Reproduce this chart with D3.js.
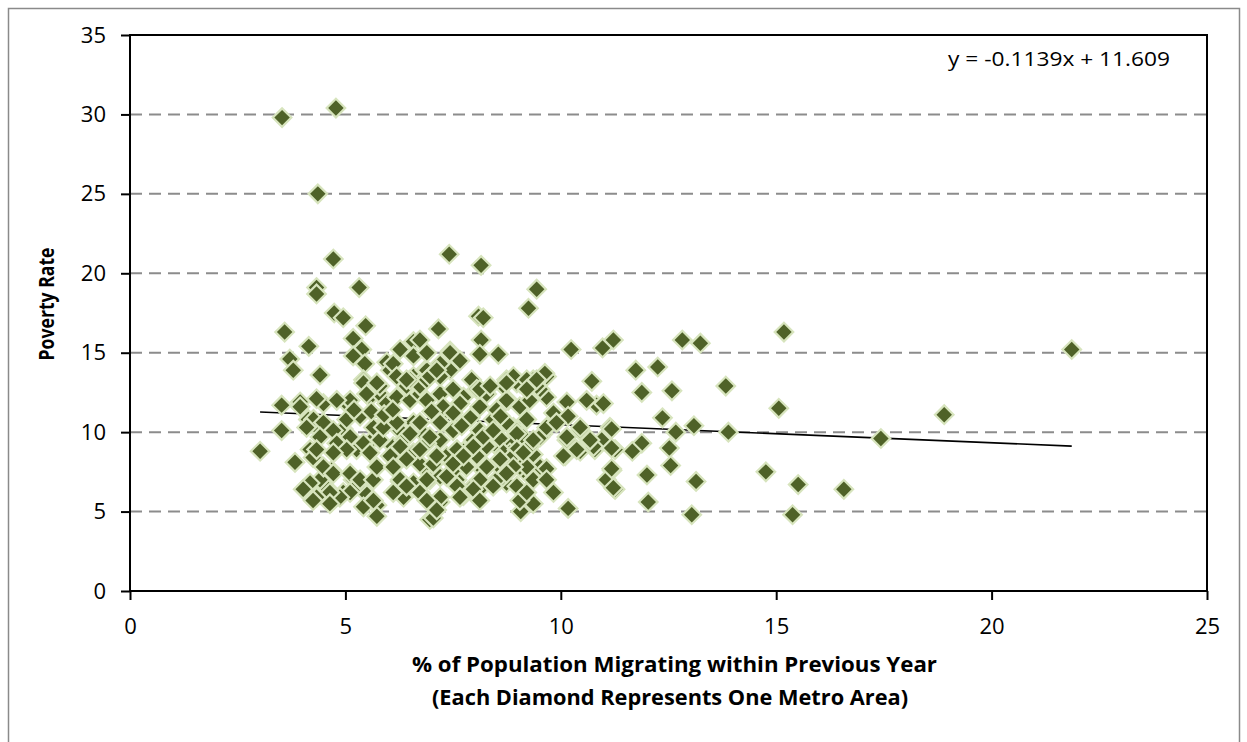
<!DOCTYPE html>
<html>
<head>
<meta charset="utf-8">
<script src="https://cdn.jsdelivr.net/npm/d3@7"></script>
<style>
  body { margin: 0; background: #fff; }
  text { font-family: "Open Sans", "Liberation Sans", sans-serif; fill: #000; }
</style>
</head>
<body>
<div id="chart"></div>
<script>
// % of population migrating within previous year (x) and poverty rate (y), one entry per metro area
var migrationPct = [
  3.53, 4.78, 4.36, 4.72, 7.41, 8.15, 4.33, 4.33, 5.32, 9.44, 9.25, 4.74, 4.95, 8.09, 8.2, 5.47, 7.16, 3.59, 15.18, 21.86,
  18.9, 17.43, 5.18, 4.15, 5.38, 3.71, 3.79, 4.41, 5.18, 5.45, 5.42, 6.27, 6.58, 5.96, 6.04, 6.58, 6.58, 6.85, 8.15, 7.43,
  8.12, 8.55, 10.24, 10.97, 11.22, 12.82, 13.24, 11.74, 12.25, 10.72, 11.88, 12.58, 13.83, 15.06, 12.36, 13.09, 12.67, 13.89, 11.88, 11.66,
  12.52, 12.55, 12.0, 14.76, 15.51, 16.57, 13.14, 12.03, 13.04, 15.38, 11.19, 11.26, 11.06, 10.17, 9.83, 9.36, 9.07, 10.1, 10.45, 10.79,
  11.26, 10.95, 11.14, 10.45, 10.14, 9.59, 9.83, 10.14, 10.17, 10.83, 10.99, 10.6, 9.67, 9.67, 9.52, 9.05, 8.74, 9.36, 8.78, 9.05,
  8.9, 8.67, 9.13, 8.82, 8.59, 9.28, 8.82, 9.13, 9.52, 8.74, 8.98, 8.59, 9.63, 7.93, 7.43, 6.89, 6.73, 3.52, 3.95, 4.49,
  5.03, 3.52, 3.02, 3.83, 4.18, 4.25, 4.41, 4.14, 4.76, 4.68, 4.14, 4.29, 4.57, 4.68, 4.95, 5.18, 5.42, 5.73, 5.73, 5.03,
  4.95, 5.26, 5.65, 5.42, 5.65, 5.57, 5.8, 5.96, 6.19, 6.5, 6.73, 5.42, 5.8, 6.42, 6.73, 5.96, 6.27, 6.58, 6.81, 6.11,
  6.35, 6.11, 6.58, 6.81, 6.81, 6.27, 6.19, 6.58, 6.35, 6.73, 6.96, 4.41, 11.18, 11.18, 11.18, 11.22, 9.05, 9.67, 9.36, 9.05,
  8.51, 8.12, 7.74, 7.2, 7.04, 6.73, 7.2, 7.5, 7.2, 6.89, 6.73, 7.04, 7.35, 7.74, 7.97, 8.12, 8.43, 8.74, 8.98, 8.59,
  8.28, 8.67, 8.98, 9.28, 9.52, 9.67, 10.14, 10.37, 10.06, 10.76, 10.68, 10.45, 6.73, 7.2, 7.74, 8.05, 8.28, 8.67, 8.98, 9.44,
  9.28, 8.74, 8.51, 8.12, 7.66, 7.27, 6.89, 6.96, 7.2, 7.59, 7.89, 7.5, 7.81, 7.12, 7.59, 8.05, 8.2, 8.51, 8.82, 9.21,
  9.36, 9.67, 6.89, 6.11, 6.19, 6.5, 6.89, 7.2, 7.43, 7.66, 7.2, 8.9, 9.21, 5.49, 5.73, 6.42, 6.96, 7.12, 7.5, 8.12,
  8.36, 8.74, 9.21, 9.44, 5.11, 4.8, 4.33, 3.95, 4.26, 4.49, 4.1, 4.41, 4.72, 5.03, 5.34, 5.11, 4.8, 5.03, 4.72, 4.33,
  4.49, 4.72, 5.11, 5.26, 5.11, 4.87, 4.64, 4.18, 4.02, 4.33, 4.64, 5.42, 5.65, 5.34, 5.65, 5.73, 5.57, 5.8, 5.88, 6.19,
  6.5, 6.27, 6.04, 6.42, 6.73, 6.96, 7.2, 6.11, 6.27, 6.42, 6.11, 6.89, 7.35, 7.5, 7.74, 7.97, 8.2, 8.43, 9.21, 9.36,
  9.13, 8.9, 8.59, 8.28, 8.12, 8.43, 7.97, 7.59, 7.2, 6.89, 7.12, 7.66, 8.12, 8.74, 9.21, 4.25,
  5.6, 5.9, 7.5, 7.9, 6.1, 7.0, 8.6, 5.2, 9.9, 7.7
];
var povertyRate = [
  29.8, 30.4, 25.0, 20.9, 21.2, 20.5, 19.1, 18.7, 19.1, 19.0, 17.8, 17.5, 17.2, 17.3, 17.2, 16.7, 16.5, 16.3, 16.3, 15.2,
  11.1, 9.6, 15.9, 15.4, 15.2, 14.6, 13.9, 13.6, 14.8, 14.3, 13.3, 15.2, 15.7, 14.4, 13.9, 14.8, 13.5, 13.9, 15.8, 15.1,
  14.9, 14.9, 15.2, 15.3, 15.8, 15.8, 15.6, 13.9, 14.1, 13.2, 12.5, 12.6, 12.9, 11.5, 10.9, 10.4, 10.0, 10.0, 9.3, 8.8,
  9.0, 7.9, 7.3, 7.5, 6.7, 6.4, 6.9, 5.6, 4.8, 4.8, 7.6, 6.4, 7.0, 5.2, 6.2, 5.5, 5.0, 8.5, 8.8, 8.9,
  8.9, 9.5, 10.3, 10.1, 9.5, 9.9, 11.2, 11.9, 11.0, 11.7, 11.8, 12.0, 12.2, 13.5, 12.7, 13.1, 13.3, 13.3, 12.0, 11.6,
  10.3, 10.6, 9.7, 9.3, 8.9, 8.7, 8.7, 7.6, 7.8, 6.8, 6.6, 7.0, 13.7, 13.3, 13.9, 13.9, 15.8, 11.7, 11.9, 11.8,
  11.8, 10.1, 8.8, 8.1, 8.9, 8.4, 10.1, 10.8, 8.8, 7.6, 6.7, 6.0, 6.5, 5.6, 6.2, 7.0, 6.3, 5.4, 4.7, 9.4,
  10.2, 8.9, 9.6, 9.3, 10.3, 12.2, 12.4, 11.8, 12.2, 12.0, 12.4, 13.1, 12.9, 12.9, 13.1, 10.8, 10.1, 10.6, 9.9, 9.1,
  9.5, 8.3, 8.7, 9.1, 7.8, 6.9, 6.4, 6.8, 5.9, 6.2, 4.5, 7.0, 10.2, 9.0, 7.7, 6.5, 5.7, 7.7, 8.6, 7.8,
  7.0, 6.4, 6.0, 5.6, 4.6, 10.6, 11.0, 10.1, 9.5, 9.3, 8.0, 8.0, 8.5, 8.8, 9.5, 10.1, 10.8, 10.6, 9.9, 9.6,
  9.1, 8.7, 8.9, 9.1, 9.7, 10.3, 9.7, 8.9, 8.5, 9.1, 9.5, 10.3, 12.9, 12.4, 12.2, 12.7, 12.4, 12.9, 13.1, 12.9,
  12.0, 12.0, 11.4, 11.6, 11.8, 11.6, 12.0, 7.0, 7.2, 7.0, 6.4, 7.6, 7.8, 8.5, 8.9, 8.5, 7.6, 8.0, 8.3, 7.8,
  7.0, 7.0, 15.0, 14.3, 13.5, 13.3, 13.3, 13.5, 15.0, 14.5, 14.3, 13.5, 13.3, 12.4, 13.1, 13.3, 13.5, 13.9, 12.7, 12.7,
  12.9, 13.1, 12.7, 13.3, 12.0, 12.0, 12.1, 11.6, 10.8, 10.6, 10.3, 9.7, 10.1, 10.8, 11.0, 9.7, 9.3, 8.9, 8.7, 8.9,
  7.8, 7.4, 7.4, 6.6, 6.2, 5.9, 6.2, 6.8, 6.4, 5.9, 5.5, 5.3, 5.7, 7.0, 7.0, 7.8, 8.7, 9.5, 10.3, 10.6,
  9.9, 9.1, 8.5, 8.3, 8.9, 9.7, 10.6, 7.8, 7.0, 6.6, 6.2, 7.0, 7.2, 8.0, 8.5, 9.1, 9.7, 10.1, 10.8, 9.5,
  8.7, 7.8, 8.3, 7.8, 7.0, 6.6, 6.4, 6.6, 5.9, 5.7, 5.1, 5.9, 5.7, 7.4, 6.2, 5.7,
  11.3, 11.1, 11.2, 10.9, 11.4, 11.3, 11.0, 11.4, 10.6, 10.4
];

// tick labels and the linear trend that Excel printed on the chart
var xTicks = [0, 5, 10, 15, 20, 25];
var yTicks = [0, 5, 10, 15, 20, 25, 30, 35];
var trendSlope = -0.1139;
var trendIntercept = 11.609;
var trendLabel = "y = -0.1139x + 11.609";

var data = migrationPct.map(function(d, i) { return {x: d, y: povertyRate[i]}; });

var width = 1247, height = 742;
var margin = {top: 35, right: 40, bottom: 151, left: 130};
var w = width - margin.left - margin.right;
var h = height - margin.top - margin.bottom;

var svg = d3.select("#chart").append("svg")
    .attr("width", width)
    .attr("height", height);

// outer chart border
svg.append("rect")
    .attr("x", 8.5).attr("y", 8.5)
    .attr("width", 1231).attr("height", 760)
    .attr("fill", "#fff")
    .attr("stroke", "#8a8a8a")
    .attr("stroke-width", 1.5);

var g = svg.append("g")
    .attr("transform", "translate(" + margin.left + "," + margin.top + ")");

var xScale = d3.scaleLinear().domain([0, 25]).range([0, w]);
var yScale = d3.scaleLinear().domain([0, 35]).range([h, 0]);

// dashed horizontal gridlines
g.selectAll(".grid")
    .data(yTicks.filter(function(d) { return d > 0 && d < 35; }))
    .enter().append("line")
    .attr("class", "grid")
    .attr("x1", 0).attr("x2", w)
    .attr("y1", function(d) { return yScale(d); })
    .attr("y2", function(d) { return yScale(d); })
    .attr("stroke", "#8c8c8c")
    .attr("stroke-width", 2)
    .attr("stroke-dasharray", "12,7");

// trendline over the data's x range
var xExt = d3.extent(migrationPct);
g.append("line")
    .attr("x1", xScale(xExt[0]))
    .attr("y1", yScale(trendSlope * xExt[0] + trendIntercept))
    .attr("x2", xScale(xExt[1]))
    .attr("y2", yScale(trendSlope * xExt[1] + trendIntercept))
    .attr("stroke", "#000")
    .attr("stroke-width", 1.6);

// diamonds
var diamond = d3.symbol().type(d3.symbolSquare).size(172);
g.selectAll(".dot")
    .data(data)
    .enter().append("path")
    .attr("class", "dot")
    .attr("d", diamond)
    .attr("transform", function(d) {
        return "translate(" + xScale(d.x) + "," + yScale(d.y) + ") rotate(45)";
    })
    .attr("fill", "#4f6228")
    .attr("stroke", "#d7e4bd")
    .attr("stroke-width", 2.2);

// plot frame
g.append("rect")
    .attr("width", w).attr("height", h)
    .attr("fill", "none")
    .attr("stroke", "#000")
    .attr("stroke-width", 2);

// axes
var yAxis = g.append("g")
    .call(d3.axisLeft(yScale).tickValues(yTicks).tickSize(9).tickPadding(15));
var xAxis = g.append("g")
    .attr("transform", "translate(0," + h + ")")
    .call(d3.axisBottom(xScale).tickValues(xTicks).tickSize(9).tickPadding(18));

[xAxis, yAxis].forEach(function(ax) {
    ax.select(".domain").remove();
    ax.selectAll("line").attr("stroke", "#000").attr("stroke-width", 2);
    ax.selectAll("text")
        .style("font-family", "'Open Sans', sans-serif")
        .style("font-size", "22px")
        .attr("fill", "#000");
});

// regression equation
svg.append("text")
    .attr("x", 1170).attr("y", 66)
    .attr("text-anchor", "end")
    .attr("textLength", 222)
    .attr("lengthAdjust", "spacingAndGlyphs")
    .style("font-size", "20px")
    .text(trendLabel);

// axis titles
svg.append("text")
    .attr("x", 412).attr("y", 672)
    .attr("textLength", 525)
    .attr("lengthAdjust", "spacingAndGlyphs")
    .style("font-size", "22px")
    .style("font-weight", "bold")
    .text("% of Population Migrating within Previous Year");

svg.append("text")
    .attr("x", 432).attr("y", 705)
    .attr("textLength", 476)
    .attr("lengthAdjust", "spacingAndGlyphs")
    .style("font-size", "22px")
    .style("font-weight", "bold")
    .text("(Each Diamond Represents One Metro Area)");

svg.append("text")
    .attr("transform", "translate(54,304) rotate(-90)")
    .attr("text-anchor", "middle")
    .attr("textLength", 113)
    .attr("lengthAdjust", "spacingAndGlyphs")
    .style("font-size", "21px")
    .style("font-weight", "bold")
    .text("Poverty Rate");
</script>
</body>
</html>
